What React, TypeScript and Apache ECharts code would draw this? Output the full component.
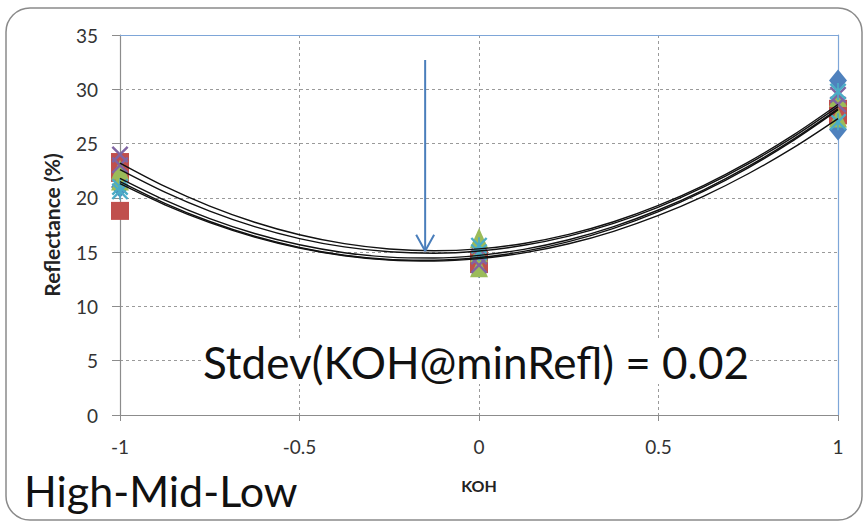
import React, { useEffect, useRef } from "react";
import * as echarts from "echarts";

const curveX = [-1, -0.875, -0.75, -0.625, -0.5, -0.375, -0.25, -0.125, 0, 0.125, 0.25, 0.375, 0.5, 0.625, 0.75, 0.875, 1];
const curve1 = [23.2, 21.05, 19.24, 17.75, 16.6, 15.78, 15.29, 15.13, 15.3, 15.8, 16.64, 17.8, 19.3, 21.13, 23.29, 25.78, 28.6];
const curve2 = [22.6, 20.53, 18.78, 17.35, 16.25, 15.48, 15.03, 14.9, 15.1, 15.63, 16.48, 17.65, 19.15, 20.98, 23.13, 25.6, 28.4];
const curve3 = [21.8, 19.79, 18.09, 16.72, 15.68, 14.95, 14.54, 14.46, 14.7, 15.26, 16.14, 17.35, 18.88, 20.72, 22.89, 25.39, 28.2];
const curve4 = [21.5, 19.5, 17.82, 16.46, 15.43, 14.71, 14.32, 14.25, 14.5, 15.07, 15.97, 17.19, 18.73, 20.59, 22.77, 25.27, 28.1];
const curve5 = [21.3, 19.36, 17.72, 16.39, 15.38, 14.67, 14.27, 14.18, 14.4, 14.93, 15.77, 16.92, 18.38, 20.14, 22.22, 24.6, 27.3];
const curves = [curve1, curve2, curve3, curve4, curve5];

const blueDiamonds = [[-1, 21.0], [-1, 22.0], [0, 14.8], [0, 13.6], [1, 30.8], [1, 26.3], [1, 28.6]];
const redSquares = [[-1, 18.8], [-1, 23.3], [-1, 22.3], [0, 14.3], [0, 13.9], [1, 28.2], [1, 27.6]];
const greenTriangles = [[-1, 21.6], [-1, 22.6], [0, 16.3], [0, 13.6], [0, 15.0], [1, 29.3], [1, 27.4]];
const purpleCrosses = [[-1, 24.0], [-1, 23.0], [0, 13.8], [0, 14.6], [1, 28.6], [1, 29.5]];
const cyanStars = [[-1, 21.0], [-1, 20.6], [0, 15.6], [0, 15.0], [1, 29.8], [1, 27.0]];

const arrowShaft = [[-0.15, 32.7], [-0.15, 15.1]];
const arrowHead = [[-0.175, 16.6], [-0.15, 15.1], [-0.125, 16.6]];

const annotation = "Stdev(KOH@minRefl) = 0.02";
const cornerLabel = "High-Mid-Low";

const X_PATH = "path://M0,2 L2,0 L10,8 L18,0 L20,2 L12,10 L20,18 L18,20 L10,12 L2,20 L0,18 L8,10 Z";
const STAR_PATH = "path://M0,2 L2,0 L10,8 L18,0 L20,2 L12,10 L20,18 L18,20 L10,12 L2,20 L0,18 L8,10 Z M9,0 L11,0 L11,20 L9,20 Z";

const FONT = "Lato, 'Open Sans', sans-serif";

export default function App() {
  const ref = useRef<HTMLDivElement>(null);
  useEffect(() => {
    if (!ref.current) return;
    const chart = echarts.init(ref.current, undefined, { renderer: "svg" });
    const lineSeries = curves.map((c) => ({
      type: "line",
      data: curveX.map((x, i) => [x, c[i]]),
      smooth: 0.3,
      symbol: "none",
      lineStyle: { color: "#111", width: 1.4 },
      z: 3,
    }));
    const scatter = (data: number[][], color: string, symbol: string, size: number | number[]) => ({
      type: "scatter",
      data,
      symbol,
      symbolSize: size,
      itemStyle: { color, opacity: 1 },
      z: 2,
    });
    chart.setOption({
      animation: false,
      textStyle: { fontFamily: FONT },
      grid: { left: 120, right: 27, top: 35, bottom: 108 },
      xAxis: [
        {
          type: "value",
          min: -1,
          max: 1,
          interval: 0.5,
          name: "KOH",
          nameLocation: "middle",
          nameGap: 62,
          nameTextStyle: { fontSize: 16, fontWeight: "bold", color: "#222", fontFamily: FONT },
          axisLine: { show: true, onZero: false, lineStyle: { color: "#8c8c8c", width: 1.2 } },
          axisTick: { show: true, length: 6, lineStyle: { color: "#8c8c8c" } },
          axisLabel: { fontSize: 19, color: "#333", margin: 22, fontFamily: FONT },
          splitLine: { show: true, lineStyle: { color: "#9a9a9a", type: [3, 3], width: 1 } },
        },
        {
          type: "value",
          position: "top",
          min: -1,
          max: 1,
          axisLine: { show: true, onZero: false, lineStyle: { color: "#7ea6d8", width: 1.2 } },
          axisTick: { show: false },
          axisLabel: { show: false },
          splitLine: { show: false },
        },
      ],
      yAxis: [
        {
          type: "value",
          min: 0,
          max: 35,
          interval: 5,
          name: "Reflectance (%)",
          nameLocation: "middle",
          nameGap: 58,
          nameTextStyle: { fontSize: 21, fontWeight: "bold", color: "#222", fontFamily: FONT },
          axisLine: { show: true, onZero: false, lineStyle: { color: "#8c8c8c", width: 1.2 } },
          axisTick: { show: true, length: 8, lineStyle: { color: "#8c8c8c" } },
          axisLabel: { fontSize: 19, color: "#333", margin: 22, fontFamily: FONT },
          splitLine: { show: true, lineStyle: { color: "#9a9a9a", type: [3, 3], width: 1 } },
        },
        {
          type: "value",
          position: "right",
          min: 0,
          max: 35,
          axisLine: { show: true, onZero: false, lineStyle: { color: "#7ea6d8", width: 1.2 } },
          axisTick: { show: false },
          axisLabel: { show: false },
          splitLine: { show: false },
        },
      ],
      series: [
        scatter(blueDiamonds, "#4F81BD", "diamond", [18, 22]),
        scatter(redSquares, "#C0504D", "rect", 18),
        scatter(greenTriangles, "#9BBB59", "triangle", [18, 20]),
        scatter(purpleCrosses, "#8064A2", X_PATH, 17),
        scatter(cyanStars, "#4BACC6", STAR_PATH, 17),
        ...lineSeries,
        {
          type: "line",
          data: arrowShaft,
          symbol: "none",
          lineStyle: { color: "#4A7EBB", width: 2 },
          z: 4,
        },
        {
          type: "line",
          data: arrowHead,
          symbol: "none",
          lineStyle: { color: "#4A7EBB", width: 2 },
          z: 4,
        },
      ],
      graphic: [
        {
          type: "rect",
          shape: { x: 6, y: 8, width: 856, height: 512, r: 24 },
          style: { fill: "none", stroke: "#8a8a8a", lineWidth: 1.5 },
          z: -1,
        },
        {
          type: "text",
          x: 476,
          y: 362,
          style: {
            text: annotation,
            fontSize: 44,
            fontFamily: FONT,
            fill: "#111",
            align: "center",
            verticalAlign: "middle",
            backgroundColor: "#fff",
          },
          z: 10,
        },
        {
          type: "text",
          x: 24,
          y: 490,
          style: {
            text: cornerLabel,
            fontSize: 43,
            fontFamily: FONT,
            fill: "#111",
            align: "left",
            verticalAlign: "middle",
          },
          z: 10,
        },
      ],
    });
    return () => chart.dispose();
  }, []);
  return (
    <div
      ref={ref}
      style={{ position: "fixed", left: 0, top: 0, width: 865, height: 523, background: "#fff" }}
    />
  );
}
